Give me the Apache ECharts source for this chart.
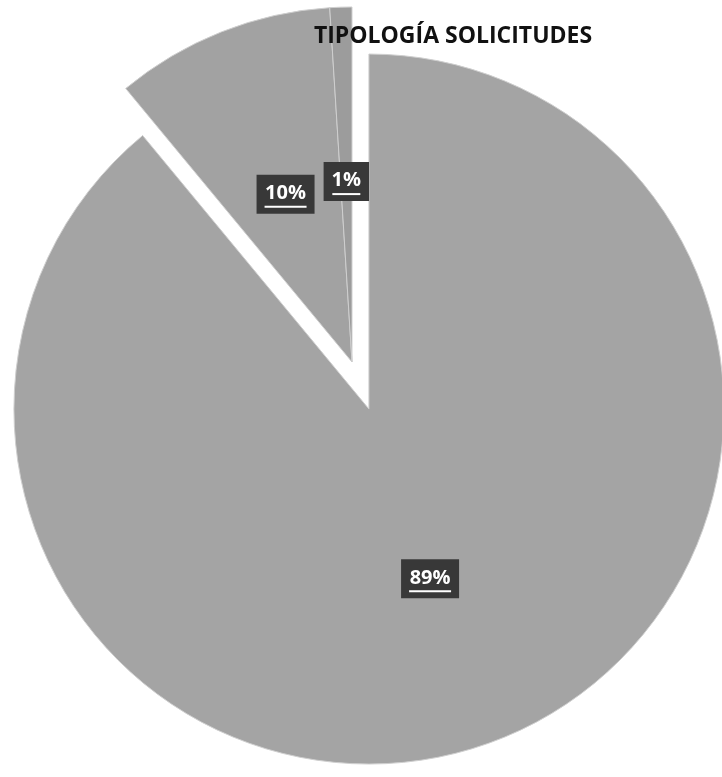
<!DOCTYPE html>
<html>
<head>
<meta charset="utf-8">
<script src="https://cdn.jsdelivr.net/npm/echarts@6/dist/echarts.min.js"></script>
<style>
html,body{margin:0;padding:0;background:#fff;}
#chart{width:722px;height:777px;}
</style>
</head>
<body>
<div id="chart"></div>
<script>
const titleText = 'TIPOLOGÍA SOLICITUDES';
const categories = ['Tipo A', 'Tipo B', 'Tipo C'];
const values = [89, 10, 1];
const exploded = [true, false, false];
const sliceColors = ['#a4a4a4', '#a2a2a2', '#9c9c9c'];

const chart = echarts.init(document.getElementById('chart'), null, {renderer: 'canvas'});
const data = categories.map((c, i) => ({
  name: c,
  value: values[i],
  selected: exploded[i],
  itemStyle: {color: sliceColors[i]}
}));

chart.setOption({
  backgroundColor: '#ffffff',
  animation: false,
  title: {
    text: titleText,
    left: 448,
    top: 20,
    textAlign: 'center',
    textStyle: {fontFamily: 'Open Sans', fontWeight: 'bold', fontSize: 23, color: '#111'}
  },
  series: [{
    type: 'pie',
    center: [352, 362],
    radius: [0, 355],
    startAngle: 90,
    clockwise: true,
    selectedMode: 'multiple',
    selectedOffset: 50,
    avoidLabelOverlap: false,
    emphasis: {disabled: true},
    itemStyle: {borderColor: '#cfcfcf', borderWidth: 1},
    data: data,
    label: {
      show: true,
      position: 'inside',
      formatter: function (p) {
        const t = p.value + '%';
        return '{t|' + t + '}\n{u' + t.length + '|}';
      },
      backgroundColor: '#383838',
      padding: [6, 8, 6, 8],
      rich: {
        t: {fontFamily: 'Open Sans', fontWeight: 'bold', fontSize: 20, color: '#fff', lineHeight: 25, align: 'center'},
        u2: {width: 28, height: 2, backgroundColor: '#fff', align: 'center'},
        u3: {width: 42, height: 2, backgroundColor: '#fff', align: 'center'}
      }
    },
    labelLine: {show: false}
  }]
});
</script>
</body>
</html>
